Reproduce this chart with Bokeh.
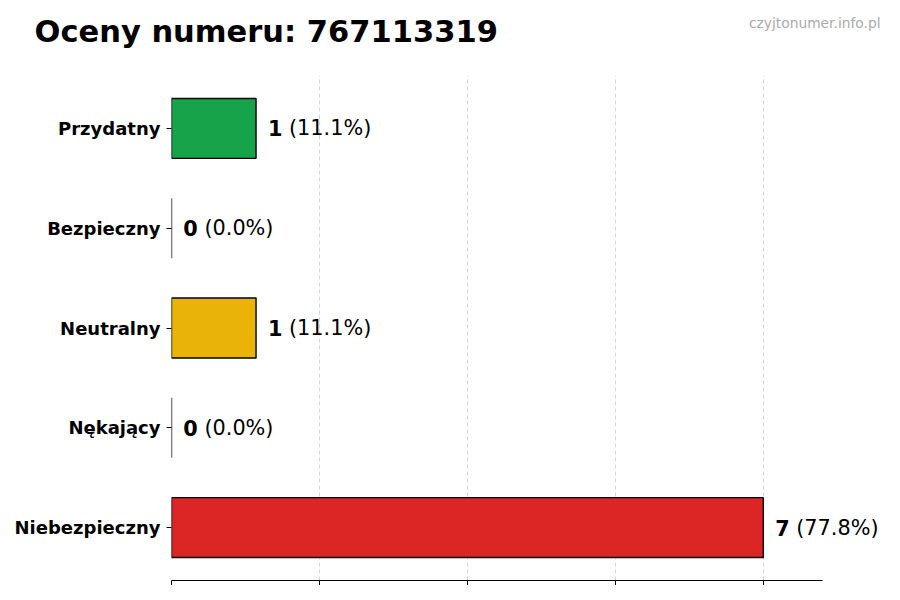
from bokeh.plotting import figure
from bokeh.models import Label, LabelSet, FactorRange, ColumnDataSource, FixedTicker, Range1d
from bokeh.core.properties import value
from bokeh.embed import file_html
from bokeh.resources import INLINE

categories = ["Przydatny", "Bezpieczny", "Neutralny", "Nękający", "Niebezpieczny"]
counts = [1, 0, 1, 0, 7]
colors = ["#16a34a", "#2563eb", "#eab308", "#f97316", "#dc2626"]
title_text = "Oceny numeru: 767113319"
watermark = "czyjtonumer.info.pl"
x_ticks = [0, 1.75, 3.5, 5.25, 7]

FONT = "DejaVu Sans"
VAL_PX = 20.8
W, H = 884, 585
LEFT = 171
AXIS_W = 651            # drawn length of the x axis in px
FRAME_W = W - LEFT      # frame reaches the right edge so value labels are not clipped

total = sum(counts)
pct_labels = ["(%.1f%%)" % (100.0 * c / total) for c in counts]
xmax = max(counts) * 1.1
x_end = xmax * FRAME_W / AXIS_W
num_labels = [str(c) for c in counts]
label_x = [c + max(counts) * 0.02 for c in counts]
pct_offset = [len(s) * 0.696 * VAL_PX + 0.318 * VAL_PX for s in num_labels]

src = ColumnDataSource(dict(cat=categories, cnt=counts, color=colors, lx=label_x,
                            num=num_labels, pct=pct_labels, poff=pct_offset))

p = figure(width=W, height=H, output_backend="svg", toolbar_location=None,
           x_range=Range1d(0, x_end),
           y_range=FactorRange(factors=list(reversed(categories)), range_padding=0.012),
           min_border_left=LEFT, min_border_right=0, min_border_top=10, min_border_bottom=0)
p.outline_line_color = None
p.background_fill_color = "white"
p.border_fill_color = "white"

p.title.text = title_text
p.title.align = "left"
p.title.offset = 34 - LEFT
p.title.standoff = 22
p.title.vertical_align = "bottom"
p.title.text_font = FONT
p.title.text_font_style = "bold"
p.title.text_font_size = "30.5px"
p.title.text_color = "black"

p.add_layout(Label(x=880 - LEFT, y=53, x_units="screen", y_units="screen", text=watermark,
                   text_font=FONT, text_font_size="13.8px", text_baseline="alphabetic",
                   text_align="right", text_color="#aaaaaa"), "above")

p.hbar(y="cat", left=0, right="cnt", height=0.6, fill_color="color", line_color="black",
       line_width=1.4, source=src)

p.add_layout(LabelSet(x="lx", y="cat", text="num", source=src, text_font=value(FONT),
                      text_font_style="bold", text_font_size="%.1fpx" % VAL_PX,
                      text_baseline="middle", text_align="left", text_color="black"))
p.add_layout(LabelSet(x="lx", y="cat", text="pct", x_offset="poff", source=src,
                      text_font=value(FONT), text_font_size="%.1fpx" % VAL_PX,
                      text_baseline="middle", text_align="left", text_color="black"))

# grid and axes
p.ygrid.grid_line_color = None
p.xgrid.ticker = FixedTicker(ticks=x_ticks)
p.xgrid.grid_line_color = "#cccccc"
p.xgrid.grid_line_dash = "4 3"
p.xgrid.grid_line_width = 0.8

p.xaxis.bounds = (0, xmax)
p.xaxis.ticker = FixedTicker(ticks=x_ticks)
p.xaxis.major_label_overrides = {t: "" for t in x_ticks}
p.xaxis.major_label_text_font_size = "0px"
p.xaxis.major_label_standoff = 0
p.xaxis.major_tick_out = 5
p.xaxis.major_tick_in = 0
p.xaxis.minor_tick_line_color = None
p.xaxis.axis_line_color = "black"
p.xaxis.major_tick_line_color = "black"

p.yaxis.axis_line_color = None
p.yaxis.major_tick_out = 5
p.yaxis.major_tick_in = 0
p.yaxis.major_tick_line_color = "black"
p.yaxis.minor_tick_line_color = None
p.yaxis.major_label_text_font = FONT
p.yaxis.major_label_text_font_style = "bold"
p.yaxis.major_label_text_font_size = "18px"
p.yaxis.major_label_text_color = "black"
p.yaxis.major_label_standoff = 6

open("out.html", "w").write(file_html(p, INLINE))
